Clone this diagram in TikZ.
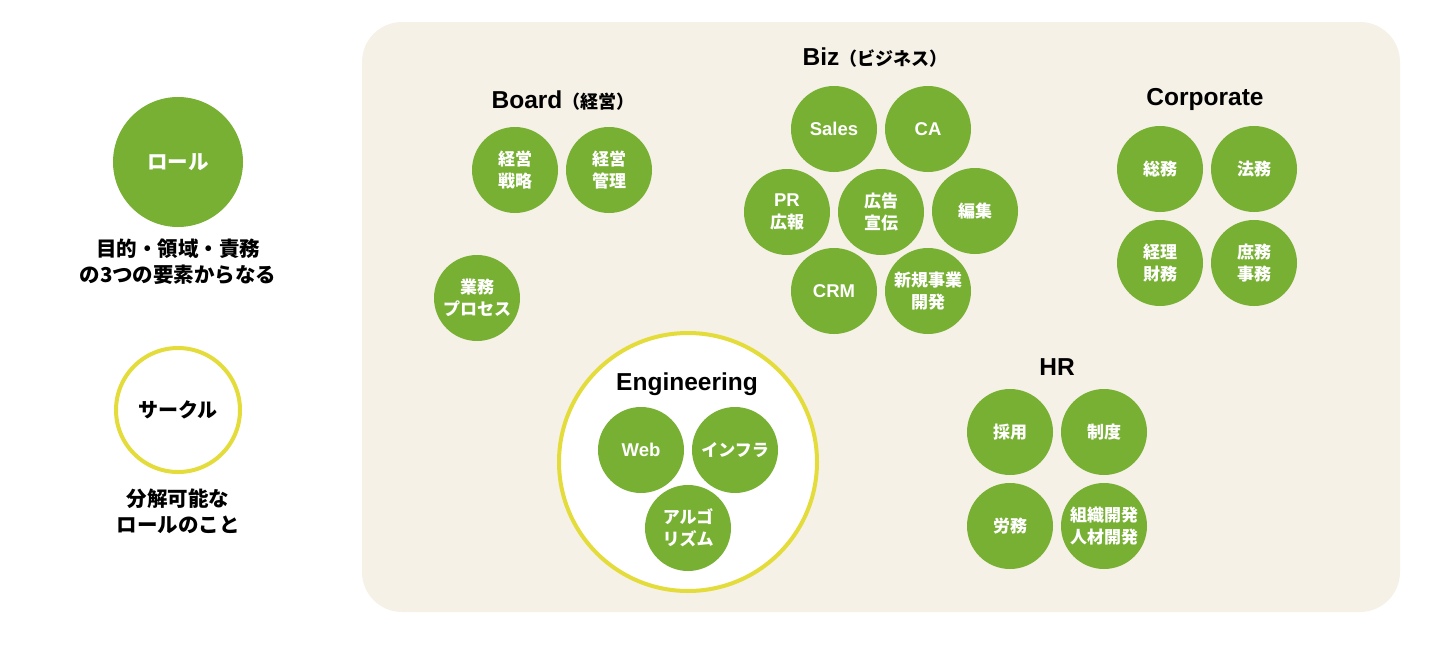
\documentclass[tikz,border=0pt]{standalone}
\usepackage{fontspec}
\setmainfont{Noto Sans CJK JP}
\newfontfamily\lat{Liberation Sans}
\definecolor{rolegreen}{HTML}{78B034}
\definecolor{circleyellow}{HTML}{E4DC3A}
\definecolor{bgcream}{HTML}{F6F1E6}
\tikzset{
  role/.style={circle, fill=rolegreen, minimum size=86, inner sep=0pt,
    text=white, align=center, font=\fontsize{17}{22}\selectfont\bfseries},
  ring/.style={circle, draw=circleyellow, line width=4, fill=white, inner sep=0pt},
  ttl/.style={font=\fontsize{24.5}{26}\selectfont\bfseries},
  note/.style={align=center, font=\fontsize{20.5}{26}\selectfont\bfseries}
}
\newcommand{\ltx}[1]{{\lat\fontsize{18.5}{22}\selectfont #1}}
\newcommand{\lttl}[1]{{\lat #1}}
\newcommand{\jttl}[1]{{\fontsize{18}{26}\selectfont #1}}
\begin{document}
\begin{tikzpicture}[x=1pt, y=-1pt]
\useasboundingbox (0,0) rectangle (1440,645);

% Leyenda
	\node[role, minimum size=130, font=\fontsize{20.5}{26}\selectfont\bfseries] (legrole) at (178,162) {ロール};
	\node[note] (legrolenote) at (178,262) {目的・領域・責務\\の3つの要素からなる};
	\node[ring, minimum size=124, font=\fontsize{20}{26}\selectfont\bfseries] (legcircle) at (178,410) {サークル};
	\node[note] (legcirclenote) at (178,511) {分解可能な\\ロールのこと};

% Fondo
	\fill[bgcream, rounded corners=40] (362,22) rectangle (1400,612);

% Board
	\node[ttl] (board) at (563,101) {\lttl{Board}\jttl{（経営）}};
	\node[role] (senryaku) at (515,170) {経営\\戦略};
	\node[role] (kanri) at (609,170) {経営\\管理};
	\node[role] (process) at (477,298) {業務\\プロセス};

% Biz
	\node[ttl] (biz) at (875,58) {\lttl{Biz}\jttl{（ビジネス）}};
	\node[role] (sales) at (834,129) {\ltx{Sales}};
	\node[role] (ca) at (928,129) {\ltx{CA}};
	\node[role] (pr) at (787,212) {\ltx{PR}\\広報};
	\node[role] (koukoku) at (881,212) {広告\\宣伝};
	\node[role] (henshu) at (975,211) {編集};
	\node[role] (crm) at (834,291) {\ltx{CRM}};
	\node[role] (shinki) at (928,291) {新規事業\\開発};

% Corporate
	\node[ttl] (corp) at (1205,99) {\lttl{Corporate}};
	\node[role] (soumu) at (1160,169) {総務};
	\node[role] (houmu) at (1254,169) {法務};
	\node[role] (keiri) at (1160,263) {経理\\財務};
	\node[role] (shomu) at (1254,263) {庶務\\事務};

% Engineering
	\node[ring, minimum size=258] (eng) at (688,462) {};
	\node[ttl] (engttl) at (687,384) {\lttl{Engineering}};
	\node[role] (web) at (641,450) {\ltx{Web}};
	\node[role] (infra) at (735,450) {インフラ};
	\node[role] (algo) at (688,528) {アルゴ\\リズム};

% HR
	\node[ttl] (hr) at (1057,367) {\lttl{HR}};
	\node[role] (saiyou) at (1010,432) {採用};
	\node[role] (seido) at (1104,432) {制度};
	\node[role] (roumu) at (1010,526) {労務};
	\node[role] (soshiki) at (1104,526) {組織開発\\人材開発};
\end{tikzpicture}
\end{document}
